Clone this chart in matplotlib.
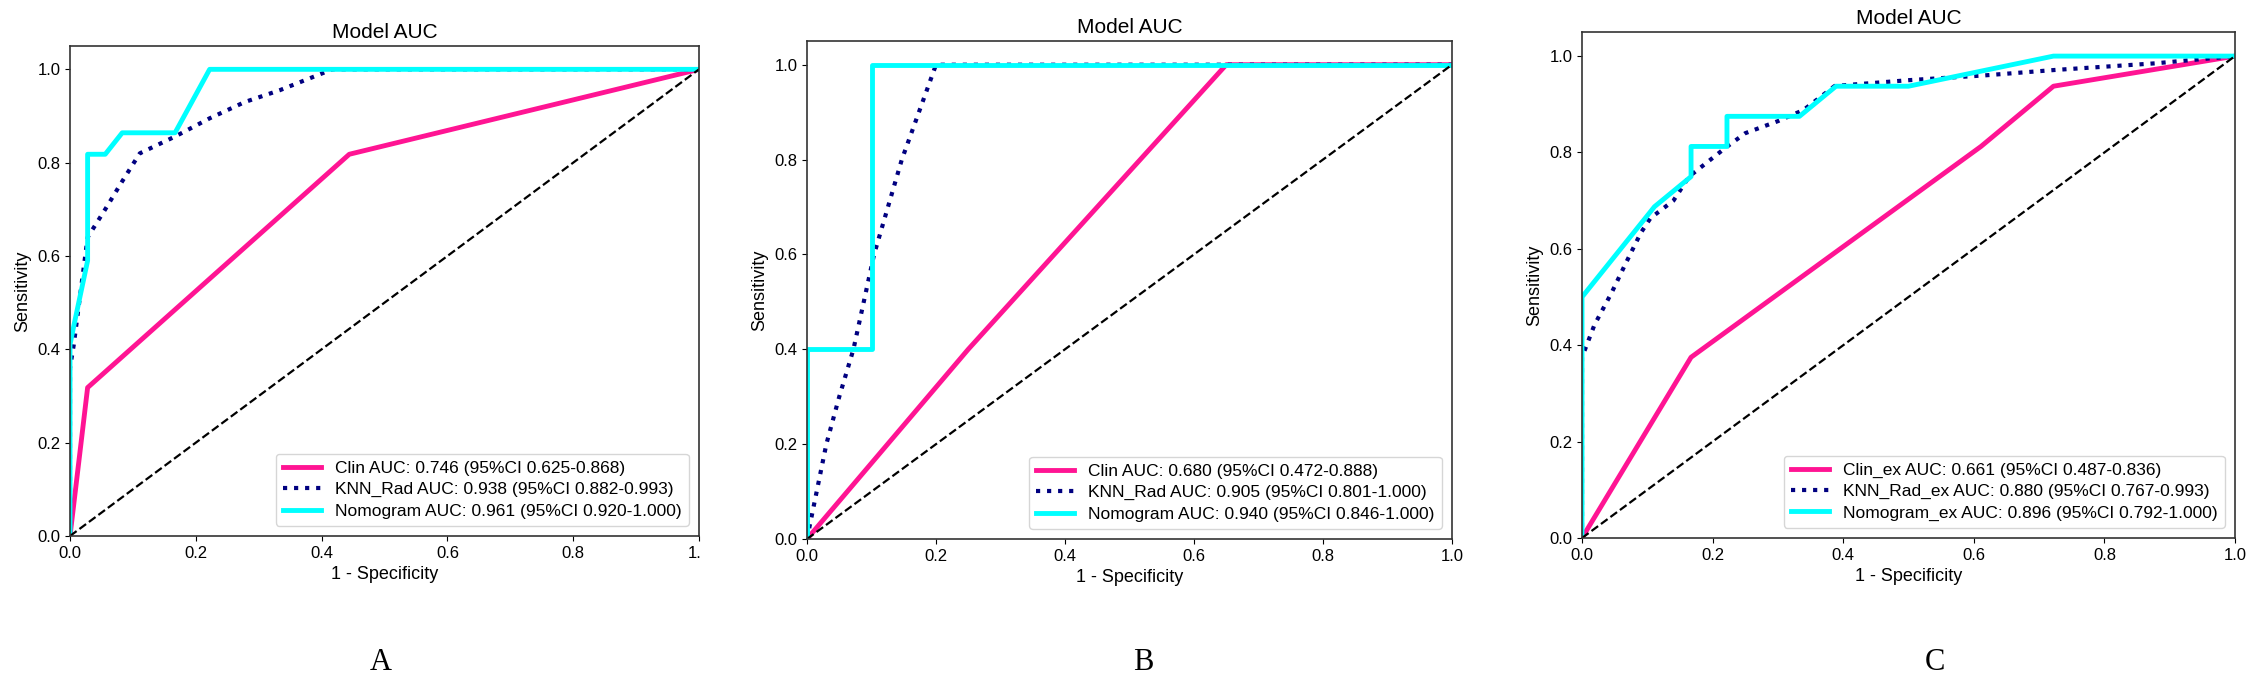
import matplotlib
matplotlib.use("Agg")
import matplotlib.pyplot as plt
from matplotlib.transforms import Bbox, TransformedBbox

plt.rcParams['font.family'] = ['Liberation Sans', 'DejaVu Sans']

# ---- data (fpr = 1 - specificity, tpr = sensitivity) ----
# panel A
clin_a_fpr = [0, 0.028, 0.444, 1]
clin_a_tpr = [0, 0.318, 0.818, 1]
knn_a_fpr = [0, 0, 0.006, 0.028, 0.056, 0.083, 0.111, 0.167, 0.222, 0.278, 0.333, 0.417, 1]
knn_a_tpr = [0, 0.36, 0.41, 0.64, 0.70, 0.76, 0.82, 0.856, 0.895, 0.93, 0.955, 1.0, 1.0]
nomo_a_fpr = [0, 0, 0.006, 0.028, 0.028, 0.056, 0.083, 0.167, 0.222, 1]
nomo_a_tpr = [0, 0.41, 0.45, 0.59, 0.818, 0.818, 0.864, 0.864, 1.0, 1.0]
labels_a = ["Clin AUC: 0.746 (95%CI 0.625-0.868)",
            "KNN_Rad AUC: 0.938 (95%CI 0.882-0.993)",
            "Nomogram AUC: 0.961 (95%CI 0.920-1.000)"]

# panel B
clin_b_fpr = [0, 0.25, 0.65, 1]
clin_b_tpr = [0, 0.4, 1.0, 1.0]
knn_b_fpr = [0, 0.015, 0.03, 0.05, 0.072, 0.104, 0.147, 0.2, 1]
knn_b_tpr = [0, 0.1, 0.2, 0.3, 0.4, 0.6, 0.8, 1.0, 1.0]
nomo_b_fpr = [0, 0, 0.1, 0.1, 1]
nomo_b_tpr = [0, 0.4, 0.4, 1.0, 1.0]
labels_b = ["Clin AUC: 0.680 (95%CI 0.472-0.888)",
            "KNN_Rad AUC: 0.905 (95%CI 0.801-1.000)",
            "Nomogram AUC: 0.940 (95%CI 0.846-1.000)"]

# panel C
clin_c_fpr = [0, 0.167, 0.611, 0.722, 1]
clin_c_tpr = [0, 0.375, 0.8125, 0.9375, 1]
knn_c_fpr = [0, 0, 0.019, 0.045, 0.067, 0.09, 0.105, 0.14, 0.164, 0.22, 0.25, 0.30,
             0.339, 0.365, 0.387, 0.5, 0.617, 0.722, 0.878, 1]
knn_c_tpr = [0, 0.375, 0.442, 0.508, 0.57, 0.633, 0.664, 0.70, 0.75, 0.81, 0.84, 0.865,
             0.888, 0.915, 0.938, 0.95, 0.96, 0.971, 0.985, 1]
nomo_c_fpr = [0, 0, 0.111, 0.167, 0.167, 0.222, 0.222, 0.333, 0.389, 0.5, 0.722, 1]
nomo_c_tpr = [0, 0.5, 0.6875, 0.75, 0.8125, 0.8125, 0.875, 0.875, 0.9375, 0.9375, 1, 1]
labels_c = ["Clin_ex AUC: 0.661 (95%CI 0.487-0.836)",
            "KNN_Rad_ex AUC: 0.880 (95%CI 0.767-0.993)",
            "Nomogram_ex AUC: 0.896 (95%CI 0.792-1.000)"]

panel_letters = ["A", "B", "C"]
ticks = [0.0, 0.2, 0.4, 0.6, 0.8, 1.0]

W, H = 2262, 686
fig = plt.figure(figsize=(W / 100, H / 100), dpi=100)

# axes boxes in pixels: left, right, top, bottom (each panel was a separate image)
boxes = [(70, 699, 46, 536), (807, 1452, 41, 539), (1582, 2235, 32, 538)]
letter_x = [381, 1143, 1935]

panels = [
    (clin_a_fpr, clin_a_tpr, knn_a_fpr, knn_a_tpr, nomo_a_fpr, nomo_a_tpr, labels_a),
    (clin_b_fpr, clin_b_tpr, knn_b_fpr, knn_b_tpr, nomo_b_fpr, nomo_b_tpr, labels_b),
    (clin_c_fpr, clin_c_tpr, knn_c_fpr, knn_c_tpr, nomo_c_fpr, nomo_c_tpr, labels_c),
]

for i, (cf, ct, kf, kt, nf, nt, labs) in enumerate(panels):
    l, r, t, b = boxes[i]
    ax = fig.add_axes([l / W, 1 - b / H, (r - l) / W, (b - t) / H])
    ax.plot(cf, ct, color='#ff1493', lw=3.5, label=labs[0])
    ax.plot(kf, kt, color='navy', lw=3, ls=':', label=labs[1])
    ax.plot(nf, nt, color='cyan', lw=3.5, label=labs[2])
    ax.plot([0, 1], [0, 1], color='black', lw=1.6, ls='--')
    ax.set_xlim(0, 1)
    ax.set_ylim(0, 1.05)
    ax.set_xticks(ticks)
    ax.set_yticks(ticks)
    ax.tick_params(labelsize=12)
    for s in ax.spines.values():
        s.set_color('#333333')
        s.set_linewidth(1.2)
    ax.set_title('Model AUC', fontsize=15)
    ax.set_xlabel('1 - Specificity', fontsize=13)
    ax.set_ylabel('Sensitivity', fontsize=13)
    ax.legend(loc='lower right', fontsize=12.5, labelspacing=0.35,
              handlelength=2.2, borderaxespad=0.6)
    fig.text(letter_x[i] / W, 1 - 662 / H, panel_letters[i], family='Liberation Serif',
             fontsize=22, ha='center', va='center')

    if i == 0:
        # the first panel image was cropped right at the axis, cutting the "1.0"
        labs_x = [f"{v:.1f}" for v in ticks]
        labs_x[-1] = ""
        ax.set_xticklabels(labs_x)
        clip = fig.text(r / W, 0, "1.0", fontsize=12, ha='center', va='top',
                        transform=ax.get_xaxis_transform())
        clip.set_position((1.0, -0.0))
        clip.set_transform(ax.transAxes + matplotlib.transforms.ScaledTranslation(
            0, -3.5 / 72 - 3.5 / 72, fig.dpi_scale_trans))
        clip.set_clip_box(TransformedBbox(Bbox([[0, 0], [(r + 1) / W, 1]]), fig.transFigure))
        clip.set_clip_on(True)

fig.savefig('out.png', dpi=100)
